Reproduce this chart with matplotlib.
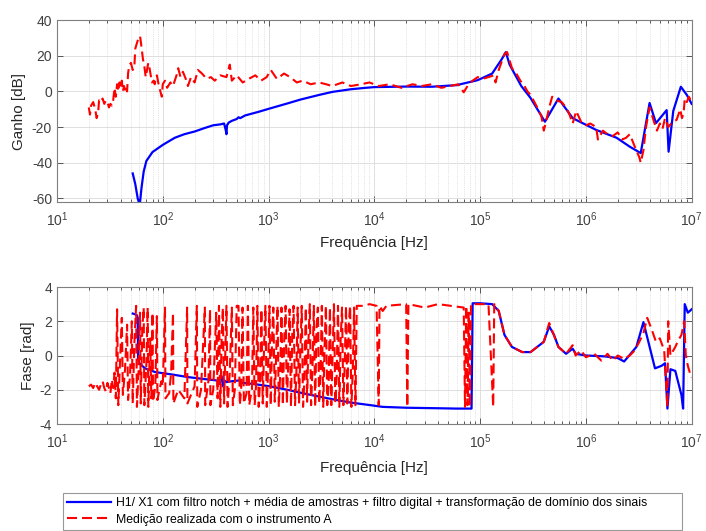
import numpy as np
import matplotlib
matplotlib.use("Agg")
import matplotlib.pyplot as plt
from matplotlib.ticker import LogFormatterSciNotation, NullFormatter

plt.rcParams['font.family'] = ['Liberation Sans', 'DejaVu Sans']
plt.rcParams['axes.unicode_minus'] = False

# --- ganho: H1/X1 (azul) ---
f_g_h1 = [52, 55, 58, 60, 61, 63, 66, 70, 80, 100, 130, 160, 200, 250, 300, 350, 380,
          395, 400, 405, 420, 450, 500, 520, 540, 600, 800, 1000, 1500, 2000, 3000, 4000,
          6000, 8300, 1e4, 2e4, 3.5e4, 6e4, 9.5e4, 1.3e5, 1.6e5, 1.75e5, 1.9e5, 2.45e5,
          3e5, 4.1e5, 5.5e5, 7.5e5, 1.25e6, 1.95e6, 2.6e6, 3.3e6, 4.0e6, 4.6e6, 5.8e6,
          6.05e6, 6.7e6, 7.9e6, 9e6, 1e7]
g_h1 = [-46, -52, -60, -63, -62, -54, -45, -39, -34, -30, -26, -24, -22.5, -20.5, -19,
        -18.5, -18, -22, -24, -19, -17.5, -16.5, -15.5, -14.5, -15, -13.5, -11.5, -9.8,
        -6.8, -4.6, -2, -0.3, 1.2, 2, 2.4, 2.7, 2.6, 3.5, 6.3, 10, 18, 22, 15, 3,
        -3.7, -17, -4, -15, -21.6, -26, -31, -34.6, -6.5, -17.8, -10.5, -33.8, -11, 2.6,
        -2, -7]

# --- ganho: medição com instrumento A (vermelho), pares (f, dB) ---
ganho_a = [
    (20, -9), (20.5, -13), (21, -8), (22, -6), (23, -10), (23.7, -15), (24.5, -12),
    (25, -5), (26, -6), (27, -4), (28, -7), (29, -5), (30, -6), (31, -9), (32, -7),
    (33, -8), (34, -5), (35, 2), (36, -3), (37, 4), (38, 0), (39, 5), (40, 2), (41, 6),
    (42, 0), (43, 3), (44, 1), (45, 3), (46, 0), (47, 10), (48, 14), (50, 16), (52, 12),
    (54, 15), (55, 24), (57, 27), (59, 30), (61, 31), (62, 28), (64, 21), (65, 18),
    (67, 14), (69, 8), (71, 12), (73, 16), (75, 13), (77, 9), (79, 5), (82, 6), (84, 4),
    (86, 8), (88, 9), (92, 3), (96, -1), (98, -3), (100, 4), (105, 6), (110, 2),
    (118, 5), (125, 3), (130, 6), (135, 9), (140, 13), (147, 8), (155, 11), (165, 7),
    (173, 3), (185, 8), (200, 5), (215, 12), (235, 10), (260, 7), (285, 8), (310, 6),
    (350, 9), (400, 8), (430, 15), (450, 6), (500, 9), (570, 5), (650, 7), (750, 9),
    (850, 6), (960, 8), (1050, 12), (1200, 7), (1400, 10), (1600, 8), (1850, 5),
    (2100, 6), (2500, 4), (3000, 5), (3500, 4), (4000, 3), (5000, 5), (6000, 3),
    (7500, 4), (9000, 5), (1.1e4, 3), (1.4e4, 4), (1.8e4, 2), (2.3e4, 4), (2.8e4, 3),
    (3.5e4, 4), (4.3e4, 2), (5.2e4, 3), (6.2e4, 4), (7e4, -0.5), (7.6e4, 3), (8.5e4, 6),
    (9.5e4, 8), (1.05e5, 7), (1.2e5, 8), (1.35e5, 9), (1.4e5, 5), (1.5e5, 12),
    (1.7e5, 21), (1.8e5, 22), (2e5, 13), (2.2e5, 10), (2.4e5, 6), (2.6e5, 3.5),
    (2.8e5, 0), (3e5, -2), (3.4e5, -8), (3.8e5, -14), (4e5, -22), (4.2e5, -17),
    (4.5e5, -9), (4.8e5, -3), (5.2e5, -5), (5.9e5, -6), (6.5e5, -9), (7e5, -13),
    (7.5e5, -18), (8.1e5, -11), (9e5, -17), (1e6, -19), (1.1e6, -18), (1.25e6, -20),
    (1.3e6, -27), (1.45e6, -22), (1.6e6, -24), (1.8e6, -25), (2e6, -23), (2.2e6, -27),
    (2.4e6, -26), (2.6e6, -24), (2.9e6, -31), (3.2e6, -37), (3.3e6, -40), (3.5e6, -33),
    (3.7e6, -20), (4e6, -9), (4.2e6, -13), (4.4e6, -17), (4.7e6, -22), (5e6, -18),
    (5.3e6, -21), (5.6e6, -15), (6e6, -20), (6.4e6, -18), (6.7e6, -17), (7.2e6, -16),
    (7.8e6, -10), (8.1e6, -15), (8.4e6, -12), (8.6e6, -4), (9e6, -6), (9.4e6, -3),
    (9.8e6, -5), (1e7, -3)]

# --- fase: H1/X1 (azul) ---
f_p_h1 = [52, 55, 57, 58, 58.5, 60, 68, 85, 120, 173, 250, 310, 345, 360, 370, 380, 400,
          450, 540, 560, 700, 1030, 1500, 2500, 4000, 6000, 9200, 1.2e4, 2e4, 4e4, 6e4,
          8.3e4, 8.5e4, 1e5, 1.3e5, 1.5e5, 1.7e5, 2e5, 2.5e5, 3e5, 4e5, 4.5e5, 5e5, 5.5e5,
          6.5e5, 7.5e5, 8e5, 1e6, 1.5e6, 2e6, 2.3e6, 3e6, 3.5e6, 4.5e6, 5.2e6, 5.6e6,
          5.9e6, 6.3e6, 7e6, 8e6, 8.3e6, 8.6e6, 9.2e6, 9.6e6, 1e7]
p_h1 = [2.45, 2.4, 2.35, 2.2, -0.2, -0.45, -0.75, -0.97, -1.1, -1.26, -1.38, -1.44, -1.5,
        -1.2, -1.8, -1.45, -1.55, -1.5, -1.45, -1.6, -1.65, -1.8, -2.0, -2.3, -2.55,
        -2.75, -2.9, -3.0, -3.05, -3.08, -3.1, -3.1, 3.05, 3.05, 3.0, 2.6, 1.2, 0.5, 0.2,
        0.2, 0.8, 1.7, 1.2, 0.5, 0.1, 0.4, 0.1, 0.0, -0.05, -0.15, -0.35, 0.5, 1.95, -0.75,
        -0.6, -0.45, -3.1, -0.8, -0.9, -2.3, -3.1, 3.0, 2.5, 2.6, 2.7]

# --- fase: medição com instrumento A (vermelho), pares (f, rad) ---
fase_a = [
    (20, -1.8), (21, -1.7), (22, -1.9), (23, -1.6), (24, -1.8), (25, -2.0), (26, -1.7),
    (27, -1.5), (28, -1.9), (29, -2.1), (30, -1.6), (31, -1.9), (32, -2.2), (33, -1.4),
    (34, -1.9),
    (35, -1.0), (36, -2.5), (37, 2.7), (38, -2.9), (40, 0.5), (41, 2.2), (42, -2.3),
    (44, -0.8), (46, 1.8), (47, -2.6), (49, -1.2), (51, 2.0), (52, -2.8), (54, 0.8),
    (56, 2.9), (57, -3.0), (59, -1.0), (61, 2.5), (62, -2.8), (64, 1.5), (66, 2.8),
    (67, -2.9), (70, -0.5), (72, 2.8), (73, -3.0), (76, 1.0), (78, -2.5), (80, 2.5),
    (81, -2.7), (85, -1.8), (88, 2.3), (89, -2.6), (93, -2.0), (97, -1.5),
    (100, -1.8), (105, 2.8), (106, -2.5), (115, -2.2), (120, -1.0), (125, 2.5),
    (126, -2.8), (140, -2.0), (160, -2.5), (170, 2.8), (171, -2.8), (185, -2.3),
    (200, -1.8), (210, 2.9), (212, -3.0), (230, -2.0), (250, 2.8), (252, -2.9),
    (270, -1.5), (280, 2.7), (282, -2.9), (300, -2.0), (320, 2.5), (330, -2.5),
    (340, 2.9), (350, -3.0), (360, 1.0), (370, 2.8), (380, -2.8), (400, 2.9),
    (410, -3.0), (430, -1.0), (450, 2.8), (460, -2.9), (480, -2.0), (500, 2.9),
    (520, 2.9), (535, -2.9), (551, -2.0), (568, 2.8), (585, -2.8), (602, -2.5),
    (620, -2.2), (638, 2.9), (657, -2.9), (677, -2.4), (697, -2.0), (718, 2.8),
    (739, -2.9), (761, -1.8), (784, 2.9), (807, -3.0), (831, -1.5), (856, 2.7),
    (881, -2.8), (907, 0.5), (934, 2.9), (962, -3.0), (990, -0.8), (1020, 2.9),
    (1050, -2.9), (1080, 1.0), (1110, 2.8), (1145, -2.7), (1180, 0.0), (1215, 2.9),
    (1250, -3.0), (1290, -1.0), (1325, 2.8), (1365, -2.9), (1405, 0.8), (1450, 2.9),
    (1490, -2.8), (1535, -0.5), (1580, 2.7), (1630, -3.0), (1675, 1.2), (1725, 2.9),
    (1780, -2.9), (1830, -1.2), (1885, 2.8), (1940, -2.8), (2000, 0.3), (2060, 2.9),
    (2120, -3.0), (2180, -1.5), (2250, 2.8), (2315, -2.7), (2385, 0.9), (2455, 3.0),
    (2525, -2.9), (2600, -0.8), (2680, 2.9), (2760, -3.0), (2840, 1.5), (2925, 2.8),
    (3010, -2.8), (3100, -1.0), (3190, 2.9), (3290, -3.0), (3385, 0.5), (3485, 2.9),
    (3590, -2.9), (3695, -1.8), (3805, 2.8), (3920, -2.9), (4035, 0.2), (4155, 3.0),
    (4280, -2.8), (4405, -1.2), (4535, 2.9), (4670, -3.0), (4810, 1.0), (4950, 2.8),
    (5100, -2.9), (5250, -0.5), (5400, 2.9), (5560, -2.8), (5730, 1.8), (5900, 2.9),
    (6070, -3.0), (6250, -1.0), (6440, 2.8), (6630, -2.9), (6825, 2.9), (7030, 2.9),
    (8000, 2.9), (9000, 3.0), (1.05e4, 2.9), (1.1e4, -2.9), (1.12e4, 2.9), (1.2e4, 2.6),
    (1.3e4, 2.9), (2e4, 3.0), (2.05e4, -3.0), (2.1e4, 3.0), (2.5e4, 2.9), (3e4, 2.8),
    (4e4, 3.0), (7e4, 2.8), (7.2e4, -3.0), (7.4e4, 2.9), (7.6e4, -2.9), (7.8e4, 2.5),
    (8e4, -3.0), (8.2e4, 3.0), (1e5, 3.0), (1.2e5, 3.0), (1.33e5, -3.0), (1.36e5, 3.0),
    (1.5e5, 2.6), (1.7e5, 1.2), (2e5, 0.5), (2.5e5, 0.2), (3e5, 0.2), (4e5, 0.8),
    (4.5e5, 1.9), (5.5e5, 0.5), (6.5e5, 0.1), (7.5e5, 0.6), (8e5, 0.0), (9e5, 0.3),
    (1e6, -0.1), (1.2e6, 0.1), (1.4e6, -0.3), (1.6e6, 0.1), (1.8e6, -0.3), (2e6, 0.0),
    (2.3e6, -0.2), (2.6e6, 0.0), (2.9e6, 0.3), (3.2e6, 0.8), (3.5e6, 1.3), (3.8e6, 2.2),
    (4.2e6, 1.5), (4.6e6, 0.8), (5e6, 1.0), (5.5e6, 0.3), (5.9e6, -3.0), (6e6, 2.0),
    (6.3e6, 0.0), (7e6, 0.5), (7.5e6, 0.9), (8e6, 1.2), (8.5e6, 2.0), (8.8e6, 0.0),
    (9.2e6, -0.6), (9.6e6, -1.0), (1e7, -1.3)]

f_g_a = [p[0] for p in ganho_a]
g_a = [p[1] for p in ganho_a]
f_p_a = [p[0] for p in fase_a]
p_a = [p[1] for p in fase_a]

xticks_maj = [1e1, 1e2, 1e3, 1e4, 1e5, 1e6, 1e7]
xticks_min = [m * d for d in [1e1, 1e2, 1e3, 1e4, 1e5, 1e6] for m in range(2, 10)]

fig = plt.figure(figsize=(7.06, 5.31), dpi=100)
ax1 = fig.add_axes([0.0807, 0.6196, 0.899, 0.3427])
ax2 = fig.add_axes([0.0807, 0.2015, 0.899, 0.2580])

l1, = ax1.semilogx(f_g_h1, g_h1, color='#0000ff', lw=1.6)
l2, = ax1.semilogx(f_g_a, g_a, color='#ff0000', lw=1.5, ls='--', dashes=(4.8, 2.4))
ax2.semilogx(f_p_h1, p_h1, color='#0000ff', lw=1.6)
ax2.semilogx(f_p_a, p_a, color='#ff0000', lw=1.5, ls='--', dashes=(4.8, 2.4))

ax1.set_ylim(-62, 40)
ax1.set_yticks([-60, -40, -20, 0, 20, 40])
ax1.set_ylabel('Ganho [dB]', fontsize=11, color='#262626')
ax2.set_ylim(-4, 4)
ax2.set_yticks([-4, -2, 0, 2, 4])
ax2.set_ylabel('Fase [rad]', fontsize=11, color='#262626', labelpad=3)

for ax, lp in ((ax1, 5), (ax2, 7.5)):
    ax.set_xlim(10, 1e7)
    ax.set_xticks(xticks_maj)
    ax.set_xticks(xticks_min, minor=True)
    ax.xaxis.set_major_formatter(LogFormatterSciNotation())
    ax.xaxis.set_minor_formatter(NullFormatter())
    ax.set_xlabel('Frequência [Hz]', fontsize=11, color='#262626', labelpad=lp)
    ax.grid(True, which='major', color='#d9d9d9', lw=0.6, ls='-')
    ax.grid(True, which='minor', axis='x', color='#cccccc', lw=0.5, ls=':')
    ax.set_axisbelow(True)
    ax.tick_params(which='both', direction='in', top=True, right=True,
                   labelsize=10, colors='#404040', length=4, width=0.6)
    ax.tick_params(axis='x', which='major', pad=6)
    ax.tick_params(which='minor', length=2.5)
    for s in ax.spines.values():
        s.set_color('#7f7f7f')
        s.set_linewidth(0.8)

leg = fig.legend([l1, l2],
                 ['H1/ X1 com filtro notch + média de amostras + filtro digital + transformação de domínio dos sinais',
                  'Medição realizada com o instrumento A'],
                 loc='upper left', bbox_to_anchor=(0.0892, 0.0716, 0.877, 0.0),
                 mode='expand', fontsize=8.8, frameon=True, fancybox=False,
                 edgecolor='#7f7f7f', borderpad=0.35, labelspacing=0.35,
                 handlelength=3.6, handletextpad=0.4, borderaxespad=0)
leg.get_frame().set_linewidth(0.8)

fig.savefig('out.png', dpi=100)
